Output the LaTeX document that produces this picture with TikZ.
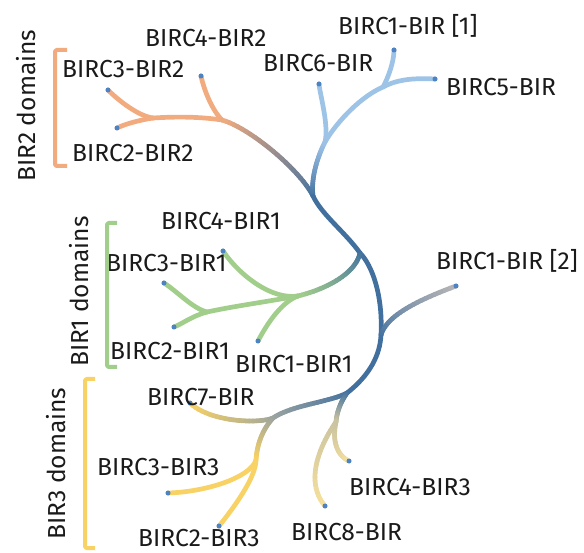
\documentclass[tikz,border=0pt]{standalone}
\usepackage{fontspec}
\setmainfont{Fira Sans}
\definecolor{orng}{HTML}{F2AB7E}
\definecolor{lblue}{HTML}{9DC3E6}
\definecolor{trunk}{HTML}{41709F}
\definecolor{grn}{HTML}{A2CE8B}
\definecolor{ylw}{HTML}{F8D264}
\definecolor{lylw}{HTML}{F6E09C}
\definecolor{tan}{HTML}{C9C3A0}
\definecolor{gry}{HTML}{B3B3B5}
\definecolor{midg}{HTML}{9AA3A0}
\definecolor{dotc}{HTML}{4D82C3}
\definecolor{txt}{HTML}{1A1A1A}
\tikzset{
  branch/.style={line width=4.7pt, line cap=round, line join=round},
  lbl/.style={font=\fontsize{24.6}{28}\selectfont, text=txt, inner sep=0pt, anchor=base west},
  grp/.style={font=\fontsize{24.6}{28}\selectfont, text=txt, inner sep=0pt, anchor=base west, rotate=90},
  brk/.style={line width=4pt, line cap=butt, line join=round, rounded corners=1.5pt},
  leafdot/.style={fill=dotc}
}
% gradient edge: start name, c1x, c1y, c2x, c2y, end name, colour at start, colour at end
\newcommand{\gradedge}[8]{%
  \foreach \gi [evaluate=\gi as \gta using \gi/24,
                evaluate=\gi as \gtb using (\gi+1)/24,
                evaluate=\gi as \gpc using 100-100*(\gi+0.5)/24] in {0,...,23}{%
    \begin{scope}[branch]
      \pgfsetstrokecolor{#7!\gpc!#8}%
      \pgfpathcurvebetweentime{\gta}{\gtb}{\pgfpointanchor{#1}{center}}{\pgfpointxy{#2}{#3}}{\pgfpointxy{#4}{#5}}{\pgfpointanchor{#6}{center}}%
      \pgfusepath{stroke}%
    \end{scope}}}
\begin{document}
\begin{tikzpicture}[x=1pt,y=-1pt]
\useasboundingbox (0,0) rectangle (584,553);
% leaves and junctions
\coordinate (b1) at (394,50);
\coordinate (b5) at (435,79);
\coordinate (b6) at (319,84);
\coordinate (Ja) at (383,87);
\coordinate (Jb) at (325,142);
\coordinate (J2) at (313,196);
\coordinate (o4) at (201,76);
\coordinate (o3) at (108,90);
\coordinate (o2) at (117,128);
\coordinate (Jo1) at (153,118);
\coordinate (Jo2) at (222,120);
\coordinate (J1) at (360,253);
\coordinate (Jg) at (298,296);
\coordinate (Jg2) at (207,312);
\coordinate (g4) at (223,251);
\coordinate (g3) at (164,283);
\coordinate (g2) at (174,327);
\coordinate (g1) at (258,341);
\coordinate (Jc) at (381,335);
\coordinate (c2) at (456,286);
\coordinate (J3) at (347,393);
\coordinate (J7) at (273,418);
\coordinate (y7) at (190,403);
\coordinate (J32) at (256,460);
\coordinate (y3) at (168,493);
\coordinate (y2) at (219,526);
\coordinate (J48) at (336,422);
\coordinate (y4) at (349,461);
\coordinate (y8) at (325,506);

% BIR2 (orange)
\draw[branch,orng] (Jo1) .. controls (138,116) and (118,100) .. (o3);
\draw[branch,orng] (Jo1) .. controls (140,120) and (125,124) .. (o2);
\draw[branch,orng] (Jo2) .. controls (195,116) and (170,117) .. (Jo1);
\draw[branch,orng] (Jo2) .. controls (212,110) and (204,90) .. (o4);
\gradedge{J2}{300}{170}{250}{128}{Jo2}{trunk}{orng}

% blue clade
\draw[branch,lblue] (Ja) .. controls (388,78) and (394,62) .. (b1);
\draw[branch,lblue] (Ja) .. controls (398,79) and (415,78) .. (b5);
\draw[branch,lblue] (Jb) .. controls (338,120) and (362,96) .. (Ja);
\draw[branch,lblue] (Jb) .. controls (329,125) and (320,95) .. (b6);
\gradedge{J2}{311}{180}{316}{160}{Jb}{trunk}{lblue}

% trunk
\draw[branch,trunk] (J2) .. controls (322,215) and (345,232) .. (J1);
\draw[branch,trunk] (J1) .. controls (372,265) and (383,295) .. (Jc);
\draw[branch,trunk] (Jc) .. controls (380,355) and (370,375) .. (J3);

% BIR1 (green)
\draw[branch,grn] (Jg) .. controls (272,300) and (240,276) .. (g4);
\draw[branch,grn] (Jg) .. controls (282,302) and (268,322) .. (g1);
\draw[branch,grn] (Jg) .. controls (265,302) and (235,306) .. (Jg2);
\draw[branch,grn] (Jg2) .. controls (192,308) and (178,292) .. (g3);
\draw[branch,grn] (Jg2) .. controls (192,316) and (182,324) .. (g2);
\gradedge{J1}{356}{272}{330}{288}{Jg}{trunk}{grn}

% BIRC1-BIR [2]
\gradedge{Jc}{386}{318}{410}{303}{c2}{trunk}{gry}

% BIR3 (yellow)
\gradedge{J3}{330}{402}{292}{405}{J7}{trunk}{midg}
\gradedge{J7}{258}{424}{210}{422}{y7}{midg}{ylw}
\gradedge{J7}{262}{430}{257}{445}{J32}{midg}{ylw}
\draw[branch,ylw] (J32) .. controls (250,478) and (205,492) .. (y3);
\draw[branch,ylw] (J32) .. controls (256,478) and (232,510) .. (y2);
\gradedge{J3}{340}{403}{337}{412}{J48}{trunk}{tan}
\gradedge{J48}{331}{445}{340}{457}{y4}{tan}{lylw}
\gradedge{J48}{322}{442}{303}{480}{y8}{tan}{lylw}

% leaf dots
\foreach \d in {b1,b5,b6,o4,o3,o2,g4,g3,g2,g1,c2,y7,y3,y2,y4,y8}
  \fill[leafdot] (\d) circle[radius=2.5pt];

% labels
\node[lbl] (tb1) at (338,35) {BIRC1-BIR [1]};
\node[lbl] (tb5) at (446,96) {BIRC5-BIR};
\node[lbl] (tb6) at (263,72) {BIRC6-BIR};
\node[lbl] (to4) at (145,47) {BIRC4-BIR2};
\node[lbl] (to3) at (62,78) {BIRC3-BIR2};
\node[lbl] (to2) at (72,162) {BIRC2-BIR2};
\node[lbl] (tg4) at (161,230) {BIRC4-BIR1};
\node[lbl] (tg3) at (106,272) {BIRC3-BIR1};
\node[lbl] (tg2) at (110,360) {BIRC2-BIR1};
\node[lbl] (tg1) at (235,373) {BIRC1-BIR1};
\node[lbl] (tc2) at (436,270) {BIRC1-BIR [2]};
\node[lbl] (ty7) at (147,406) {BIRC7-BIR};
\node[lbl] (ty3) at (97,475) {BIRC3-BIR3};
\node[lbl] (ty2) at (138,546) {BIRC2-BIR3};
\node[lbl] (ty4) at (349,495) {BIRC4-BIR3};
\node[lbl] (ty8) at (291,540) {BIRC8-BIR};

% group brackets and titles
\draw[brk,orng] (67,50) -- (55,50) -- (55,166) -- (67,166);
\draw[brk,grn] (117,223) -- (107,223) -- (107,367) -- (117,367);
\draw[brk,ylw] (95,379) -- (85,379) -- (85,548) -- (95,548);
\node[grp] (t2) at (35,182) {BIR2 domains};
\node[grp] (t1) at (88,367) {BIR1 domains};
\node[grp] (t3) at (65,540) {BIR3 domains};
\end{tikzpicture}
\end{document}
